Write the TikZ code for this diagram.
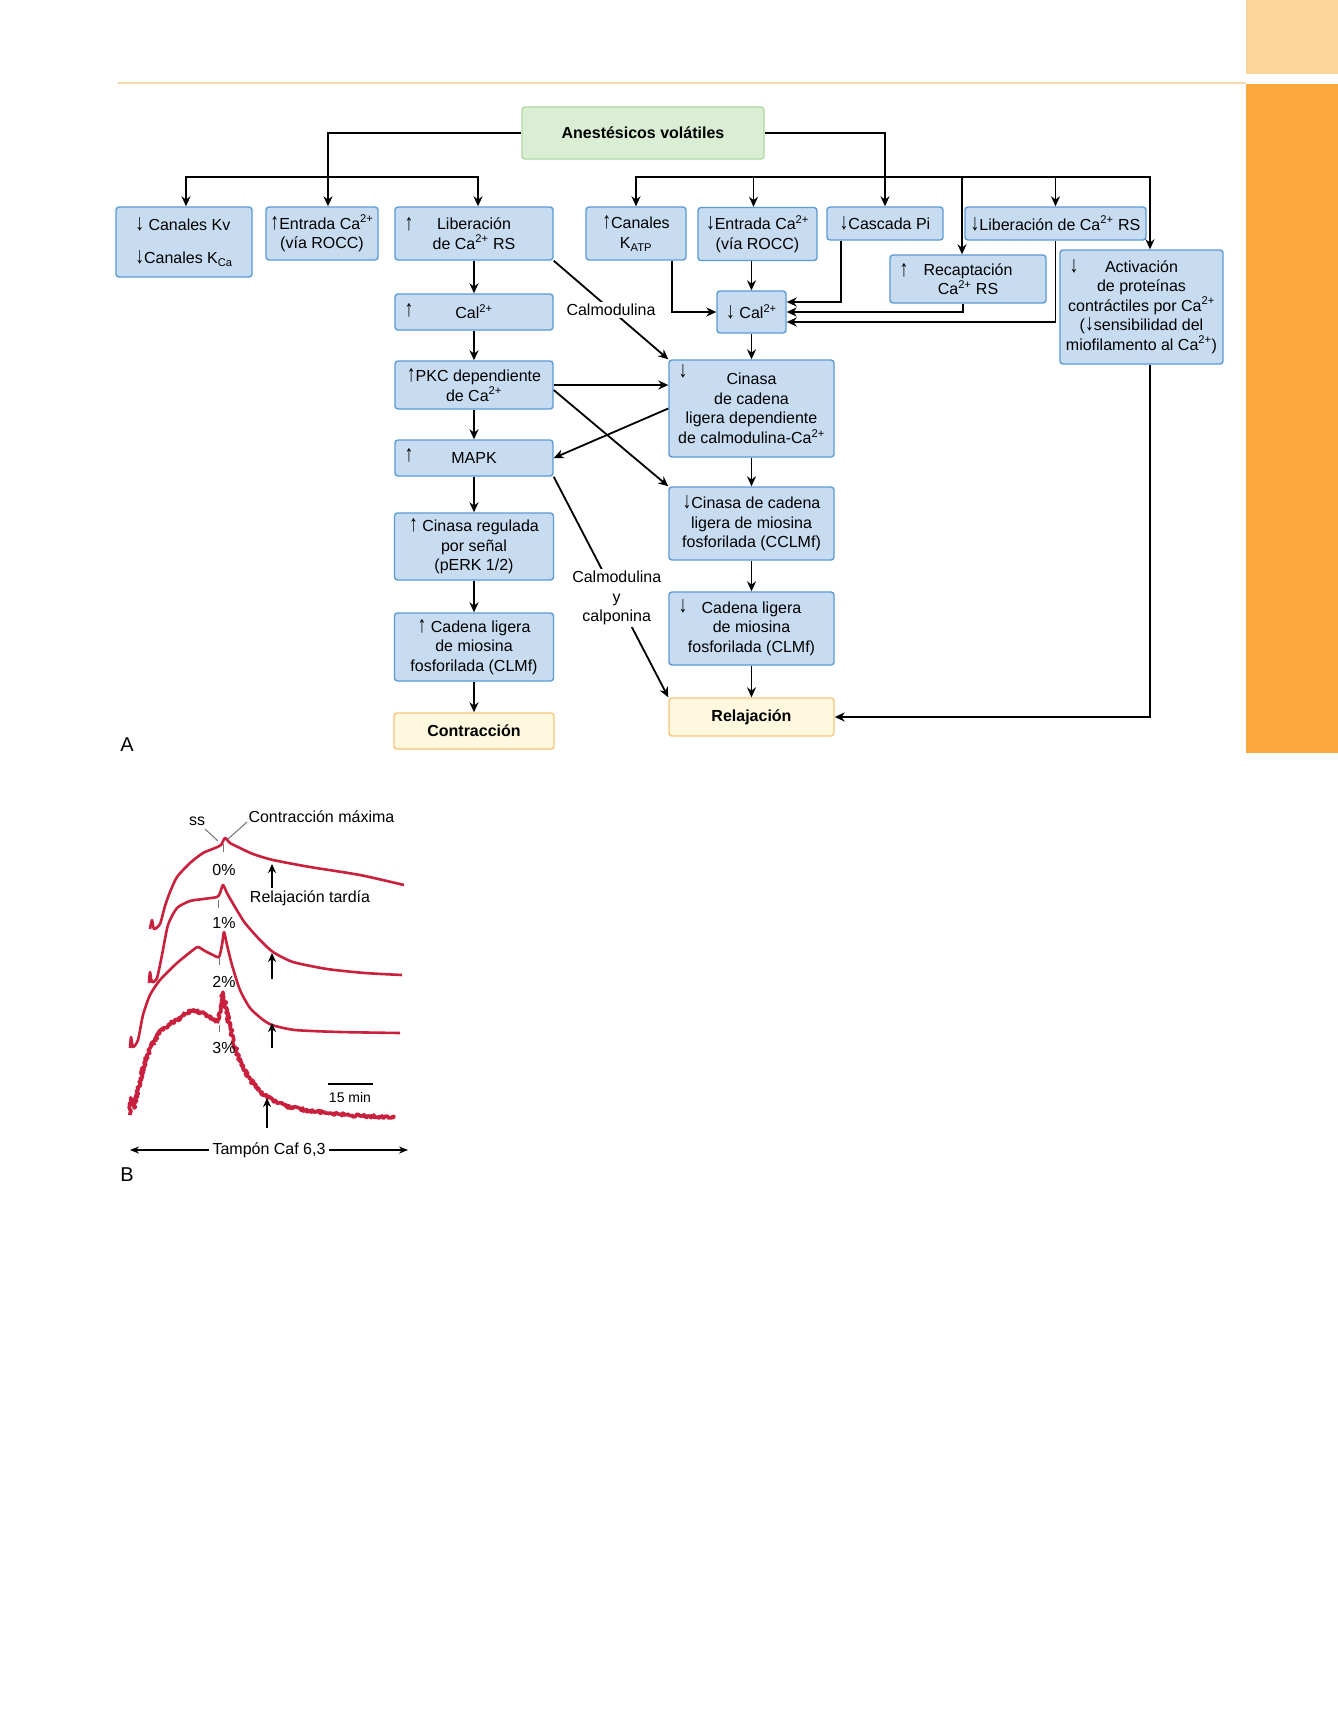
\documentclass[tikz,border=0pt]{standalone}
\usepackage{graphicx}
\usepackage{fontspec}
\setmainfont{Liberation Sans}
\usetikzlibrary{arrows.meta,positioning,decorations.pathmorphing}
\definecolor{boxfill}{HTML}{C8DCF1}
\definecolor{boxline}{HTML}{5B9BD5}
\definecolor{srcfill}{HTML}{DAEED3}
\definecolor{srcline}{HTML}{AFD9A2}
\definecolor{endfill}{HTML}{FEF9DE}
\definecolor{endline}{HTML}{F8C47A}
\definecolor{tabLite}{HTML}{FDD59C}
\definecolor{tabDark}{HTML}{FDA83F}
\definecolor{ruleLite}{HTML}{F7D8AA}
\definecolor{tracered}{HTML}{C9203D}
\newcommand\boxfont{\fontsize{16}{19.5}\selectfont}
\newcommand\smallfont{\fontsize{14}{16}\selectfont}
\newcommand\upar{\scalebox{1.1}[1.45]{↑}}
\newcommand\dnar{\scalebox{1.1}[1.45]{↓}}
\tikzset{
  block/.style={draw=boxline, fill=boxfill, line width=1.4pt, rounded corners=3pt,
                font=\boxfont, align=center, inner sep=2pt},
  source/.style={block, draw=srcline, fill=srcfill, font=\boxfont\bfseries},
  outcome/.style={block, draw=endline, fill=endfill, font=\boxfont\bfseries},
  dims/.style 2 args={minimum width=#1pt, minimum height=#2pt},
  arrowtag/.style 2 args={label={[anchor=north west, inner sep=0pt,
                font=\boxfont, xshift=10pt, yshift=-#2pt]north west:#1}},
  flow/.style={-{Stealth[length=10pt, width=9pt]}, line width=1.8pt},
  cue/.style={fill=white, font=\boxfont, align=center, inner sep=2pt},
  trace/.style={draw=tracered, line width=2.6pt, line join=round},
  pointer/.style={-{Stealth[length=9pt, width=8pt]}, line width=1.6pt},
  lead/.style={draw=black!55, line width=1pt}
}

\begin{document}
\begin{tikzpicture}[x=1pt, y=-1pt]
  \pgfmathsetseed{11}
  \path[use as bounding box, fill=white] (0,0) rectangle (1338,1711);
  % page tabs
  \fill[tabLite] (1246,0) rectangle (1338,74);
  \fill[tabDark] (1246,84) rectangle (1338,753);
  \draw[ruleLite, line width=2pt] (118,83) -- (1246,83);

  % A
  \node[source, dims={242}{52}] (anest) at (643,133) {Anestésicos volátiles};

  \node[block, dims={136}{70}, align=left] (kv) at (184,242)
       {\dnar\ Canales Kv\\[13pt]\dnar Canales K\textsubscript{Ca}};
  \node[block, dims={112}{53}] (entup) at (322,233.5) {\upar Entrada Ca\textsuperscript{2+}\\(vía ROCC)};
  \node[block, dims={158}{53}, arrowtag={\upar}{11}] (libup) at (474,233.5)
       {Liberación\\de Ca\textsuperscript{2+} RS};
  \node[block, dims={100}{53}] (katp) at (636,233.5) {\upar Canales\\K\textsubscript{ATP}};
  \node[block, dims={119}{53}] (entdn) at (757.5,234) {\dnar Entrada Ca\textsuperscript{2+}\\(vía ROCC)};
  \node[block, dims={116}{33}] (casc) at (885,223.5) {\dnar Cascada Pi};
  \node[block, dims={181}{33}] (libdn) at (1055.5,223.5) {\dnar Liberación de Ca\textsuperscript{2+} RS};
  \node[block, dims={156}{48}, arrowtag={\upar}{9}] (recap) at (968,279)
       {Recaptación\\Ca\textsuperscript{2+} RS};
  \node[block, dims={163}{114}, arrowtag={\dnar}{10}] (activ) at (1141.5,307)
       {Activación\\de proteínas\\contráctiles por Ca\textsuperscript{2+}\\(\dnar sensibilidad del\\miofilamento al Ca\textsuperscript{2+})};

  \node[block, dims={158}{36}, arrowtag={\upar}{10}] (calup) at (474,312) {Cal\textsuperscript{2+}};
  \node[block, dims={69}{42}] (caldn) at (751.5,312) {\dnar\ Cal\textsuperscript{2+}};
  \node[block, dims={158}{48}] (pkc) at (474,385) {\upar PKC dependiente\\de Ca\textsuperscript{2+}};
  \node[block, dims={158}{36}, arrowtag={\upar}{9}] (mapk) at (474,458) {MAPK};
  \node[block, dims={165}{97}, arrowtag={\dnar}{5}] (cindep) at (751.5,408.5)
       {Cinasa\\de cadena\\ligera dependiente\\de calmodulina-Ca\textsuperscript{2+}};
  \node[block, dims={159}{67}] (erk) at (474,546.5) {\upar\ Cinasa regulada\\por señal\\(pERK 1/2)};
  \node[block, dims={159}{68}] (clmfup) at (474,647) {\upar\ Cadena ligera\\de miosina\\fosforilada (CLMf)};
  \node[outcome, dims={160}{36}] (contr) at (474,731) {Contracción};
  \node[block, dims={165}{73}] (cclmf) at (751.5,523.5) {\dnar Cinasa de cadena\\ligera de miosina\\fosforilada (CCLMf)};
  \node[block, dims={165}{73}, arrowtag={\dnar}{8}] (clmfdn) at (751.5,628.5)
       {Cadena ligera\\de miosina\\fosforilada (CLMf)};
  \node[outcome, dims={165}{38}] (relaj) at (751.5,717) {Relajación};

  \coordinate (splitL) at (328,177);
  \coordinate (splitR) at (885,177);

  \draw[flow] (anest.west) -| ([xshift=6pt]entup.north);
  \draw[flow] (splitL) -| ([xshift=2pt]kv.north);
  \draw[flow] (splitL) -| ([xshift=4pt]libup.north);
  \draw[flow] (anest.east) -| (casc.north);
  \draw[flow] (splitR) -| (katp.north);
  \draw[flow] (splitR) -| ([xshift=-4pt]entdn.north);
  \draw[flow] (splitR) -| ([xshift=-6pt]recap.north);
  \draw[flow] (splitR) -| (libdn.north);
  \draw[flow] (splitR) -| ([xshift=8.5pt]activ.north);

  \draw[flow] (libup) -- (calup);
  \draw[flow] (calup) -- (pkc);
  \draw[flow] (pkc) -- (mapk);
  \draw[flow] (mapk) -- (erk);
  \draw[flow] (erk) -- (clmfup);
  \draw[flow] (clmfup) -- (contr);

  \draw[flow] (entdn.south -| caldn) -- (caldn);
  \draw[flow] ([xshift=36pt]katp.south) |- (caldn.west);
  \draw[flow] ([xshift=-44pt]casc.south) |- ([yshift=10pt]caldn.east);
  \draw[flow] ([xshift=-5pt]recap.south) |- (caldn.east);
  \draw[flow] (libdn.south) |- ([yshift=-10pt]caldn.east);
  \draw[flow] (caldn) -- (cindep);
  \draw[flow] (cindep) -- (cclmf);
  \draw[flow] (cclmf) -- (clmfdn);
  \draw[flow] (clmfdn) -- (relaj);
  \draw[flow] ([xshift=8.5pt]activ.south) |- (relaj.east);

  \draw[flow] (libup.south east) -- node[cue] (calm) {Calmodulina} (cindep.north west);
  \draw[flow] (pkc.east) -- (pkc.east -| cindep.west);
  \draw[flow] ([yshift=-5pt]pkc.east) -- (cclmf.north west);
  \draw[flow] (cindep.west) -- (mapk.east);
  \draw[flow] (mapk.south east) -- node[cue, pos=0.55] (calp) {Calmodulina\\y\\calponina} (relaj.north west);

  \node[font=\fontsize{20}{22}\selectfont] (tagA) at (127,745) {A};

  % B: traces
  \draw[trace] plot[smooth, tension=0.4] coordinates {(150,929) (152,920) (154,929) (160,924)
    (165,906) (170,892) (177,877) (190,863) (203,853) (215,848) (221,845) (225,838) (230,843)
    (240,848) (253,854) (273,860) (310,867) (360,875) (404,885)};
  \draw[trace] plot[smooth, tension=0.4] coordinates {(149,983) (150,972) (152,982) (157,978)
    (162,955) (168,925) (177,908) (190,901) (203,899) (217,897) (220,893) (223,885) (227,893)
    (235,907) (245,923) (260,940) (273,952) (293,962) (327,969) (365,973) (402,975)};
  \draw[trace] plot[smooth, tension=0.4] coordinates {(130,1048) (131,1037) (133,1047) (138,1040)
    (143,1015) (150,995) (160,980) (177,963) (193,950) (198,947) (205,951) (213,955) (219,957)
    (222,945) (224,932) (227,945) (232,965) (240,990) (250,1008) (262,1019) (272,1025)
    (295,1030) (340,1032) (400,1033)};
  \draw[trace, line width=3.6pt, decorate,
        decoration={random steps, segment length=1pt, amplitude=1.6pt}]
    (130,1115) -- (131,1098) -- (134,1108) -- (138,1090) -- (143,1068) -- (150,1048)
    -- (160,1032) -- (168,1025) -- (177,1020) -- (185,1014) -- (193,1010) -- (200,1012)
    -- (210,1017) -- (218,1022) -- (221,1008) -- (223,992) -- (226,1008) -- (229,1022)
    -- (232,1035) -- (237,1053) -- (243,1068) -- (249,1078) -- (255,1085) -- (261,1092)
    -- (267,1097) -- (278,1103) -- (290,1107) -- (310,1111) -- (330,1113) -- (360,1116)
    -- (395,1117);

  \node[font=\boxfont] (ss) at (197,821) {ss};
  \node[font=\boxfont, anchor=west] (cmax) at (245,817) {Contracción máxima};
  \draw[lead] (205,829) -- (218,841);
  \draw[lead] (247,822) -- (228,839);
  \draw[lead] (223,844) -- (223,852);
  \draw[lead] (218,900) -- (218,908);
  \draw[lead] (219,957) -- (219,965);
  \draw[lead] (219,1025) -- (219,1032);
  \node[font=\boxfont] (p0) at (224,870) {0\%};
  \node[font=\boxfont] (p1) at (224,923) {1\%};
  \node[font=\boxfont] (p2) at (224,982) {2\%};
  \node[font=\boxfont] (p3) at (224,1048) {3\%};
  \node[font=\boxfont] (late) at (310,898) {Relajación tardía};

  \draw[pointer] (272,888) -- (272,864);
  \draw[pointer] (272,979) -- (272,953);
  \draw[pointer] (272,1048) -- (272,1023);
  \draw[pointer] (267,1128) -- (267,1098);

  \draw[line width=1.2pt] (328,1084) -- (373,1084);
  \node[font=\smallfont] (bar) at (350,1097) {15 min};

  \coordinate (bufL) at (130,1150);
  \coordinate (bufR) at (408,1150);
  \draw[{Stealth[length=9pt, width=7pt]}-{Stealth[length=9pt, width=7pt]}, line width=1.3pt]
    (bufL) -- node[cue, inner sep=4pt] (buf) {Tampón Caf 6,3} (bufR);

  \node[font=\fontsize{20}{22}\selectfont] (tagB) at (127,1175) {B};
\end{tikzpicture}
\end{document}
